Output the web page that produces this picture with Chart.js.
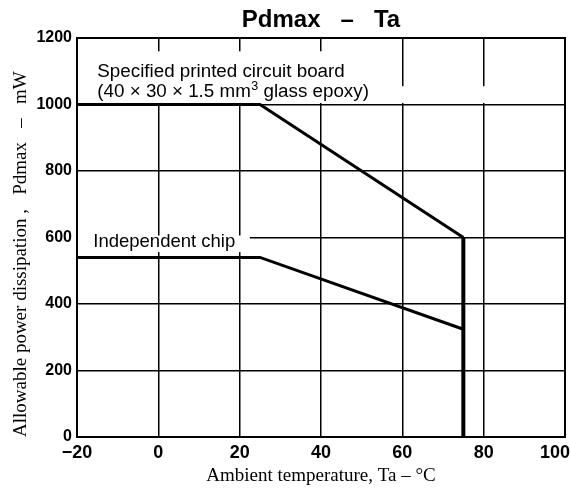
<!DOCTYPE html>
<html>
<head>
<meta charset="utf-8">
<script src="https://cdn.jsdelivr.net/npm/chart.js@4.4.1/dist/chart.umd.min.js"></script>
<style>
  html, body { margin: 0; padding: 0; background: #fff; }
  #wrap { width: 570px; height: 490px; }
</style>
</head>
<body>
<div id="wrap"><canvas id="pdChart" width="570" height="490"></canvas></div>
<script>
const xTicks = [-20, 0, 20, 40, 60, 80, 100];
const yTicks = [0, 200, 400, 600, 800, 1000, 1200];
// specified printed circuit board
const boardTemp = [-20, 25, 75, 75];
const boardPower = [1000, 1000, 600, 0];
// independent chip
const chipTemp = [-20, 25, 75];
const chipPower = [540, 540, 324];

const toPoints = (xs, ys) => xs.map((x, i) => ({ x: x, y: ys[i] }));

Chart.defaults.font.family = "'Liberation Sans', Arial, sans-serif";
Chart.defaults.color = '#000';

// white boxes behind the labels (hide the grid there)
const maskPlugin = {
    id: 'mask',
    beforeDatasetsDraw(chart) {
        const { ctx, chartArea: a, scales: { x, y } } = chart;
        ctx.save();
        ctx.fillStyle = '#fff';
        const y1000 = y.getPixelForValue(1000);
        // label box for the board
        ctx.fillRect(a.left + 1, y.getPixelForValue(1160), x.getPixelForValue(55) - a.left - 1, y1000 - 1.5 - y.getPixelForValue(1160));
        ctx.fillRect(a.left + 1, y.getPixelForValue(1055), a.right - a.left - 2, y1000 - 1.5 - y.getPixelForValue(1055));
        // chip label
        ctx.fillRect(a.left + 1, y.getPixelForValue(606), x.getPixelForValue(22.5) - a.left - 1, y.getPixelForValue(556) - y.getPixelForValue(606));
        ctx.restore();
    }
};

const labelPlugin = {
    id: 'labels',
    afterDraw(chart) {
        const { ctx, chartArea: a, scales: { x, y } } = chart;
        ctx.save();
        ctx.strokeStyle = '#000';
        ctx.lineWidth = 2;
        ctx.strokeRect(a.left, a.top, a.right - a.left, a.bottom - a.top);

        ctx.fillStyle = '#000';
        ctx.textBaseline = 'alphabetic';
        ctx.textAlign = 'left';
        const big = "18.8px 'Liberation Sans', Arial, sans-serif";
        ctx.font = big;
        const lx = x.getPixelForValue(-15);
        ctx.fillText('Specified printed circuit board', lx, y.getPixelForValue(1083));
        const b2 = y.getPixelForValue(1023);
        const part1 = '(40 \u00d7 30 \u00d7 1.5 mm';
        ctx.fillText(part1, lx, b2);
        let px = lx + ctx.measureText(part1).width;
        ctx.font = "12.5px 'Liberation Sans', Arial, sans-serif";
        ctx.fillText('3', px + 0.5, b2 - 7);
        px += ctx.measureText('3').width + 0.5;
        ctx.font = big;
        ctx.fillText(' glass epoxy)', px, b2);

        ctx.font = "18.5px 'Liberation Sans', Arial, sans-serif";
        ctx.fillText('Independent chip', x.getPixelForValue(-16), y.getPixelForValue(571));
        ctx.restore();
    }
};

const ctx1 = document.getElementById('pdChart').getContext('2d');
const pdChart = new Chart(ctx1, {
    type: 'line',
    data: {
        datasets: [{
            label: 'Specified printed circuit board',
            data: toPoints(boardTemp, boardPower),
            borderColor: '#000',
            borderWidth: 3,
            pointRadius: 0,
            fill: false,
            segment: {
                borderWidth: c => c.p0.parsed.x === c.p1.parsed.x ? 4 : 3
            }
        }, {
            label: 'Independent chip',
            data: toPoints(chipTemp, chipPower),
            borderColor: '#000',
            borderWidth: 3,
            pointRadius: 0,
            fill: false
        }]
    },
    options: {
        responsive: false,
        animation: false,
        layout: { padding: { left: 0, right: 5, top: 0, bottom: 0 } },
        plugins: {
            legend: { display: false },
            tooltip: { enabled: false },
            title: {
                display: true,
                text: 'Pdmax   \u2013   Ta',
                fullSize: false,
                color: '#000',
                font: { size: 24, weight: 'bold' },
                padding: { top: 6, bottom: 3.2 }
            }
        },
        scales: {
            x: {
                type: 'linear',
                min: -20,
                max: 100,
                afterBuildTicks: s => { s.ticks = xTicks.map(v => ({ value: v })); },
                afterFit: s => { s.height = 53; s.paddingLeft = 0; s.paddingRight = 0; },
                grid: { color: '#000', lineWidth: 1.5, drawTicks: false },
                border: { color: '#000', width: 2 },
                ticks: {
                    padding: 5,
                    font: { size: 18, weight: 'bold' },
                    callback: v => v < 0 ? '\u2212' + Math.abs(v) : (v === 100 ? '100\u00a0\u00a0\u00a0\u00a0' : String(v))
                },
                title: {
                    display: true,
                    text: 'Ambient temperature, Ta \u2013 \u00b0C',
                    font: { family: "'Liberation Serif', 'Times New Roman', serif", size: 19 },
                    padding: { top: 0, bottom: 3 }
                }
            },
            y: {
                min: 0,
                max: 1200,
                afterBuildTicks: s => { s.ticks = yTicks.map(v => ({ value: v })); },
                afterFit: s => { s.width = 77; s.paddingTop = 0; s.paddingBottom = 0; },
                grid: { color: '#000', lineWidth: 1.5, drawTicks: false },
                border: { color: '#000', width: 2 },
                ticks: {
                    padding: 5,
                    font: { size: 16, weight: 'bold' },
                    callback: v => String(v)
                },
                title: {
                    display: true,
                    align: 'start',
                    text: 'Allowable power dissipation ,   Pdmax   \u2013   mW',
                    font: { family: "'Liberation Serif', 'Times New Roman', serif", size: 19 },
                    padding: { top: 10, bottom: 0 }
                }
            }
        }
    },
    plugins: [maskPlugin, labelPlugin]
});
</script>
</body>
</html>
